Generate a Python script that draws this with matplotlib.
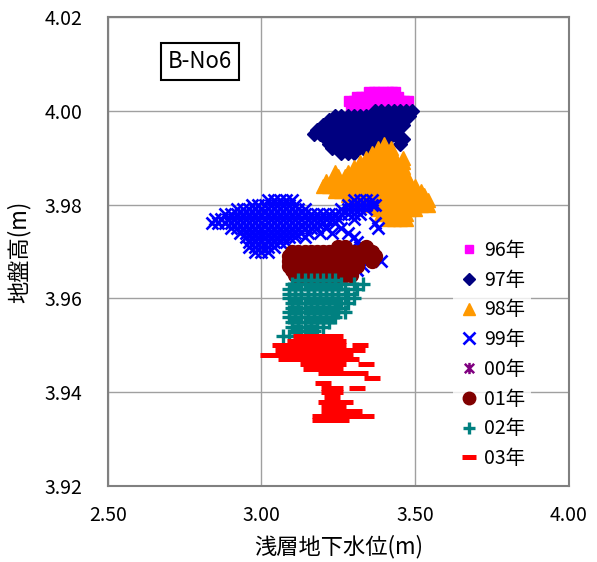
import matplotlib
matplotlib.use("Agg")
import matplotlib.pyplot as plt
from matplotlib.path import Path

plt.rcParams['font.family'] = ['Noto Sans CJK JP', 'DejaVu Sans']

# ---- data: rows of y (ground elevation, m) -> list of x (shallow groundwater level, m) ----
rows_96 = {
    4.004: [3.35, 3.365, 3.38, 3.395, 3.41, 3.425, 3.435],
    4.003: [3.31, 3.325, 3.34, 3.355, 3.37, 3.385, 3.40, 3.415, 3.43, 3.445],
    4.002: [3.285, 3.30, 3.315, 3.33, 3.345, 3.36, 3.375, 3.39, 3.405, 3.42, 3.435,
            3.45, 3.465, 3.475],
    4.001: [3.29, 3.31, 3.33, 3.35, 3.37, 3.39, 3.41, 3.43, 3.45, 3.47],
}
rows_97 = {
    4.000: [3.37, 3.39, 3.41, 3.43, 3.45, 3.47, 3.49],
    3.999: [3.24, 3.26, 3.28, 3.30, 3.32, 3.34, 3.36, 3.38, 3.40, 3.42, 3.44, 3.46, 3.48],
    3.998: [3.22, 3.24, 3.26, 3.28, 3.30, 3.32, 3.34, 3.36, 3.38, 3.40, 3.42, 3.44, 3.46],
    3.997: [3.20, 3.22, 3.24, 3.26, 3.28, 3.30, 3.32, 3.34, 3.36, 3.38, 3.40, 3.42, 3.44,
            3.46],
    3.996: [3.18, 3.20, 3.22, 3.24, 3.26, 3.28, 3.30, 3.32, 3.34, 3.36, 3.38, 3.40, 3.42,
            3.44],
    3.995: [3.17, 3.19, 3.21, 3.23, 3.25, 3.27, 3.29, 3.31, 3.33, 3.35, 3.37, 3.39, 3.41,
            3.43],
    3.994: [3.21, 3.23, 3.25, 3.27, 3.29, 3.31, 3.33, 3.35, 3.37, 3.39, 3.41, 3.45, 3.46],
    3.993: [3.22, 3.24, 3.26, 3.28, 3.30, 3.32, 3.34, 3.36, 3.38, 3.45],
    3.992: [3.23, 3.25, 3.27, 3.29, 3.31, 3.33, 3.35, 3.37],
    3.991: [3.26, 3.28, 3.30],
}
rows_98 = {
    3.993: [3.40],
    3.992: [3.38, 3.40, 3.42],
    3.991: [3.36, 3.38, 3.40, 3.42],
    3.990: [3.34, 3.36, 3.38, 3.40, 3.42, 3.46],
    3.989: [3.32, 3.34, 3.36, 3.38, 3.40, 3.42, 3.44, 3.46],
    3.988: [3.30, 3.32, 3.34, 3.36, 3.38, 3.40, 3.42, 3.44, 3.46],
    3.987: [3.24, 3.28, 3.30, 3.32, 3.34, 3.36, 3.38, 3.40, 3.42, 3.44],
    3.986: [3.25, 3.27, 3.29, 3.31, 3.33, 3.35, 3.37, 3.39, 3.41, 3.43, 3.47],
    3.985: [3.21, 3.23, 3.25, 3.27, 3.29, 3.31, 3.33, 3.35, 3.37, 3.39, 3.41, 3.43, 3.45,
            3.48],
    3.984: [3.20, 3.22, 3.24, 3.26, 3.28, 3.30, 3.32, 3.34, 3.36, 3.38, 3.40, 3.42, 3.44,
            3.46, 3.48, 3.50],
    3.983: [3.24, 3.26, 3.28, 3.30, 3.32, 3.34, 3.36, 3.38, 3.40, 3.42, 3.44, 3.46, 3.48,
            3.52],
    3.982: [3.28, 3.30, 3.32, 3.34, 3.36, 3.38, 3.40, 3.42, 3.44, 3.46, 3.48, 3.50, 3.53],
    3.981: [3.31, 3.33, 3.35, 3.37, 3.39, 3.41, 3.43, 3.45, 3.47, 3.49, 3.51, 3.54],
    3.980: [3.36, 3.38, 3.40, 3.42, 3.44, 3.46, 3.48, 3.50, 3.52, 3.54],
    3.979: [3.38, 3.40, 3.42, 3.44, 3.46, 3.48, 3.50],
    3.978: [3.39, 3.41, 3.43, 3.45, 3.47],
    3.977: [3.41, 3.43, 3.45, 3.47],
}
rows_99 = {
    3.981: [3.02, 3.04, 3.06, 3.08, 3.10, 3.30, 3.32, 3.34, 3.36],
    3.980: [2.97, 2.99, 3.01, 3.03, 3.05, 3.07, 3.09, 3.11, 3.28, 3.30, 3.32, 3.34, 3.36,
            3.37],
    3.979: [2.92, 2.94, 2.96, 2.98, 3.00, 3.02, 3.04, 3.06, 3.08, 3.10, 3.12, 3.14, 3.26,
            3.28, 3.30, 3.32, 3.34],
    3.978: [2.88, 2.90, 2.92, 2.94, 2.96, 2.98, 3.00, 3.02, 3.04, 3.06, 3.08, 3.10, 3.12,
            3.14, 3.16, 3.18, 3.20, 3.22, 3.24, 3.26, 3.28, 3.30, 3.32],
    3.977: [2.85, 2.87, 2.89, 2.91, 2.93, 2.95, 2.97, 2.99, 3.01, 3.03, 3.05, 3.07, 3.09,
            3.11, 3.13, 3.15, 3.17, 3.19, 3.21, 3.23, 3.25, 3.30],
    3.976: [2.84, 2.86, 2.88, 2.90, 2.92, 2.94, 2.96, 2.98, 3.00, 3.02, 3.04, 3.06, 3.08,
            3.10, 3.12, 3.14, 3.16, 3.18, 3.20, 3.24, 3.37],
    3.975: [2.90, 2.92, 2.94, 2.96, 2.98, 3.00, 3.02, 3.04, 3.06, 3.08, 3.10, 3.12, 3.14,
            3.16, 3.18, 3.21, 3.26, 3.38],
    3.974: [2.93, 2.95, 2.97, 2.99, 3.01, 3.03, 3.05, 3.07, 3.09, 3.11, 3.13, 3.15, 3.19,
            3.23, 3.28],
    3.973: [2.95, 2.97, 2.99, 3.01, 3.03, 3.05, 3.07, 3.09, 3.11, 3.14, 3.30],
    3.972: [2.96, 2.98, 3.00, 3.02, 3.04, 3.06, 3.08, 3.31],
    3.971: [2.96, 2.98, 3.00, 3.02, 3.04, 3.32],
    3.970: [2.98, 3.00, 3.02, 3.33],
    3.969: [3.29, 3.32],
    3.968: [3.28, 3.31, 3.39],
    3.967: [3.30, 3.33],
    3.966: [3.31],
}
rows_00 = {
    3.968: [3.22, 3.25],
    3.967: [3.28],
}
rows_01 = {
    3.971: [3.25, 3.27, 3.34],
    3.970: [3.10, 3.12, 3.14, 3.16, 3.18, 3.20, 3.22, 3.24, 3.26, 3.28, 3.30, 3.32, 3.34,
            3.36],
    3.969: [3.09, 3.11, 3.13, 3.15, 3.17, 3.19, 3.21, 3.23, 3.25, 3.27, 3.29, 3.31, 3.33,
            3.35, 3.37],
    3.968: [3.09, 3.11, 3.13, 3.15, 3.17, 3.19, 3.21, 3.23, 3.25, 3.27, 3.29, 3.31, 3.36],
    3.967: [3.09, 3.11, 3.13, 3.15, 3.17, 3.19, 3.21, 3.23, 3.25, 3.27, 3.29, 3.31],
    3.966: [3.10, 3.12, 3.14, 3.16, 3.18, 3.20, 3.22, 3.24, 3.26, 3.28],
    3.965: [3.11, 3.13, 3.15, 3.17, 3.19, 3.21, 3.23, 3.25, 3.27, 3.29],
}
rows_02 = {
    3.964: [3.12, 3.14, 3.16, 3.18, 3.20, 3.22, 3.24],
    3.963: [3.10, 3.12, 3.14, 3.16, 3.18, 3.20, 3.22, 3.24, 3.26, 3.30, 3.33],
    3.962: [3.09, 3.11, 3.13, 3.15, 3.17, 3.19, 3.21, 3.23, 3.25, 3.27, 3.31],
    3.961: [3.09, 3.11, 3.13, 3.15, 3.17, 3.19, 3.21, 3.23, 3.25, 3.28],
    3.960: [3.09, 3.11, 3.13, 3.15, 3.17, 3.19, 3.21, 3.23, 3.25, 3.27, 3.30],
    3.959: [3.10, 3.12, 3.14, 3.16, 3.18, 3.20, 3.22, 3.24, 3.26, 3.28],
    3.958: [3.10, 3.12, 3.14, 3.16, 3.18, 3.20, 3.22, 3.24, 3.25],
    3.957: [3.09, 3.11, 3.13, 3.15, 3.17, 3.19, 3.21, 3.23, 3.25, 3.27],
    3.956: [3.09, 3.11, 3.13, 3.15, 3.17, 3.19, 3.21, 3.23, 3.24],
    3.955: [3.10, 3.12, 3.14, 3.16, 3.18, 3.20, 3.22],
    3.954: [3.10, 3.12, 3.14, 3.16, 3.18, 3.20],
    3.953: [3.11, 3.13, 3.15, 3.17],
    3.952: [3.07, 3.09],
}
rows_03 = {
    3.952: [3.13, 3.15, 3.17, 3.19, 3.21, 3.23, 3.24],
    3.951: [3.11, 3.13, 3.15, 3.17, 3.19, 3.21, 3.23, 3.25],
    3.950: [3.06, 3.08, 3.10, 3.12, 3.14, 3.16, 3.18, 3.20, 3.22, 3.24, 3.25, 3.32],
    3.949: [3.07, 3.09, 3.11, 3.13, 3.15, 3.17, 3.19, 3.21, 3.23, 3.25, 3.27, 3.29, 3.31],
    3.948: [3.02, 3.04, 3.06, 3.08, 3.10, 3.12, 3.14, 3.16, 3.18, 3.20, 3.22, 3.24, 3.26,
            3.27],
    3.947: [3.08, 3.10, 3.12, 3.14, 3.16, 3.18, 3.20, 3.22, 3.24, 3.26, 3.28, 3.29],
    3.946: [3.15, 3.17, 3.19, 3.21, 3.23, 3.25, 3.34],
    3.945: [3.16, 3.18, 3.20, 3.22, 3.24],
    3.944: [3.21, 3.23, 3.25, 3.27, 3.29, 3.31, 3.32],
    3.943: [3.36],
    3.942: [3.20],
    3.941: [3.22, 3.24, 3.31],
    3.940: [3.22, 3.24],
    3.939: [3.23],
    3.938: [3.21, 3.23, 3.25, 3.27],
    3.937: [3.22, 3.24, 3.25],
    3.936: [3.22, 3.24, 3.26, 3.28, 3.30],
    3.935: [3.19, 3.21, 3.23, 3.25, 3.27, 3.29, 3.31, 3.34],
    3.934: [3.19, 3.21, 3.23, 3.25, 3.26],
}

labels = ['96年', '97年', '98年', '99年', '00年', '01年', '02年', '03年']
colors = ['#FF00FF', '#000080', '#FF9900', '#0000FF', '#800080', '#800000', '#008080', '#FF0000']
x_ticks = [2.50, 3.00, 3.50, 4.00]
y_ticks = [3.92, 3.94, 3.96, 3.98, 4.00, 4.02]

star = Path([(-1, -1), (1, 1), (-1, 1), (1, -1), (0, -1.2), (0, 1.2)],
            [Path.MOVETO, Path.LINETO, Path.MOVETO, Path.LINETO, Path.MOVETO, Path.LINETO])

styles = [
    dict(marker='s', markersize=7),
    dict(marker='D', markersize=7),
    dict(marker='^', markersize=10),
    dict(marker='x', markersize=9, markeredgewidth=1.9),
    dict(marker=star, markersize=9, markeredgewidth=1.8),
    dict(marker='o', markersize=10),
    dict(marker='+', markersize=10, markeredgewidth=2.4),
    dict(marker='_', markersize=11, markeredgewidth=3.6),
]

all_rows = [rows_96, rows_97, rows_98, rows_99, rows_00, rows_01, rows_02, rows_03]

fig = plt.figure(figsize=(5.97, 5.62), dpi=100)
ax = fig.add_axes([0.1804, 0.1352, 0.7727, 0.8345])

for rows, lab, col, st in zip(all_rows, labels, colors, styles):
    xs = [x for yv, xl in rows.items() for x in xl]
    ys = [yv for yv, xl in rows.items() for x in xl]
    ax.plot(xs, ys, linestyle='none', color=col, markerfacecolor=col,
            markeredgecolor=col, label=lab, **st)

ax.set_xlim(2.5, 4.0)
ax.set_ylim(3.92, 4.02)
ax.set_xticks(x_ticks)
ax.set_yticks(y_ticks)
ax.set_xticklabels([f"{v:.2f}" for v in x_ticks])
ax.set_yticklabels([f"{v:.2f}" for v in y_ticks])
ax.tick_params(length=0, labelsize=14)
ax.tick_params(axis='x', pad=14)
ax.tick_params(axis='y', pad=18)
ax.grid(True, color='#A0A0A0', linewidth=1)
ax.set_axisbelow(True)
for s in ax.spines.values():
    s.set_color('#808080')
    s.set_linewidth(1.5)

ax.set_xlabel('浅層地下水位(m)', fontsize=16, labelpad=6)
ax.set_ylabel('地盤高(m)', fontsize=16, labelpad=10)

ax.text(0.2, 0.905, 'B-No6', transform=ax.transAxes, fontsize=16,
        ha='center', va='center',
        bbox=dict(boxstyle='square,pad=0.32', facecolor='white', edgecolor='black', linewidth=1.5))

leg = ax.legend(loc='upper left', bbox_to_anchor=(0.728, 0.558), frameon=True,
                fontsize=14, handlelength=1.0, handletextpad=0.3, labelspacing=0.45,
                borderpad=0.3, markerscale=0.9, fancybox=False)
leg.get_frame().set_facecolor('white')
leg.get_frame().set_edgecolor('none')

fig.savefig('out.png', dpi=100)
